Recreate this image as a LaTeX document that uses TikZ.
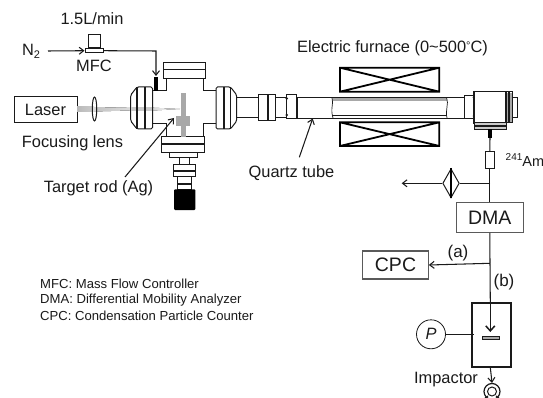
\documentclass[tikz,border=0pt]{standalone}
\usepackage{fontspec}
\setmainfont{Liberation Sans}
\usetikzlibrary{arrows.meta,shapes.geometric}
\definecolor{ink}{HTML}{1A1A1A}
\definecolor{boxline}{HTML}{5A5A5A}
\definecolor{rodgray}{HTML}{A8A8A8}
\tikzset{
  lbl/.style={inner sep=0pt,text=ink,font=\fontsize{16.4}{18}\selectfont},
  small/.style={inner sep=0pt,anchor=west,text=ink,font=\fontsize{13.1}{15}\selectfont},
  big/.style={inner sep=0pt,text=ink,font=\fontsize{19.5}{21}\selectfont},
  part/.style={draw=ink,line width=1pt,fill=white},
  wire/.style={draw=ink,line width=1.05pt},
  flow/.style={wire,-{Straight Barb[length=4.5pt,width=7pt]}},
  graybox/.style={draw=boxline,line width=1.1pt,inner sep=0pt,fill=white},
  heater/.style={draw=black,line width=1.8pt},
}
\begin{document}
\begin{tikzpicture}[x=1pt,y=-1pt]
\useasboundingbox (0,0) rectangle (543,398);
\fill[white] (0,0) rectangle (543,398);
% labels
\node[lbl] (rate) at (92,19) {1.5L/min};
\node[lbl] (n2) at (31,51) {N\raisebox{-0.35ex}{\fontsize{11}{12}\selectfont 2}};
\node[lbl] (mfc) at (94,66) {MFC};
\node[lbl] (fl) at (72.5,143) {Focusing lens};
\node[lbl] (tr) at (98.5,188) {Target rod (Ag)};
\node[lbl] (qt) at (291.5,173) {Quartz tube};
\node[lbl] (ef) at (392.5,48) {Electric furnace (0\char"7E 500\raisebox{0.35ex}{\fontsize{11}{12}\selectfont °}C)};
\node[lbl,anchor=west] (am) at (505.5,160) {\raisebox{0.6ex}{\fontsize{10}{12}\selectfont 241}\fontsize{14.5}{16}\selectfont Am};
\node[lbl] (imp) at (446,380) {Impactor};
\node[small] (l1) at (40,284) {MFC: Mass Flow Controller};
\node[small] (l2) at (40,300) {DMA: Differential Mobility Analyzer};
\node[small] (l3) at (40,316) {CPC: Condensation Particle Counter};
\node[lbl,font=\fontsize{17}{19}\selectfont] (a) at (458,253) {(a)};
\node[lbl,font=\fontsize{17}{19}\selectfont] (b) at (504,282) {(b)};
% laser and beam
\node[draw=ink,line width=1pt,minimum width=63pt,minimum height=26pt,inner sep=0pt,lbl] (laser) at (45.5,110) {Laser};
\fill[left color=rodgray!80,right color=rodgray!60] (77,106.5) -- (94,106.5) -- (94,111.5) -- (77,111.5) -- cycle;
\fill[left color=rodgray!70,right color=white] (94,107) -- (180,109) -- (94,111.5) -- cycle;
\node[draw=ink,line width=1pt,fill=white,fill opacity=0.4,ellipse,minimum width=4.5pt,minimum height=24pt,inner sep=0pt] (lens) at (94.5,109) {};
% chamber
\draw[part] (166,91) -- (166,78) -- (203,78) -- (203,91) -- (216,91) -- (216,124) -- (203,124) -- (203,137) -- (166,137) -- (166,124) -- (152,124) -- (152,91) -- cycle;
\fill[left color=rodgray!45,right color=white] (153,107.7) -- (180,109) -- (153,110.5) -- cycle;
\draw[part] (163.5,62.7) rectangle (205.7,78.3);
\draw[wire] (163.5,69.5) -- (205.7,69.5);
% left flange
\draw[part,rounded corners=1.5pt] (152.5,87) -- (137,87) -- (130.7,95) -- (130.7,121) -- (137,129) -- (152.5,129) -- cycle;
\fill[rodgray!60] (131,107.3) rectangle (152,110.8);
\draw[wire] (137,87) -- (137,129) (145,87) -- (145,129);
% right flange
\draw[part] (236,98) rectangle (258,118);
\draw[part,rounded corners=1.5pt] (216,87) -- (230.5,87) -- (236.7,95) -- (236.7,121) -- (230.5,129) -- (216,129) -- cycle;
\draw[wire] (224,87) -- (224,129) (230.5,87) -- (230.5,129);
% bottom flanges
\draw[part] (169,152.7) rectangle (197,157.7);
\draw[part] (179.3,157.7) rectangle (189,165);
\draw[part] (161.7,137) rectangle (204.3,152.7);
\draw[wire] (161.7,144) -- (204.3,144);
\draw[part] (177.7,177) rectangle (191,189.5);
\draw[wire] (177.7,184) -- (191,184);
\draw[part] (173,165) rectangle (195.7,177);
\draw[wire] (173,171) -- (195.7,171);
\fill[black,rounded corners=1pt] (174,189.3) rectangle (195.3,210);
% target rod
\fill[rodgray] (181,93) rectangle (186,137);
\fill[rodgray] (176,115.7) rectangle (190,126);
% gas line
\draw[part] (88,35) rectangle (100,48);
\node[part,inner sep=0pt,minimum width=18pt,minimum height=4.5pt] (valve) at (94,50.7) {};
\coordinate (n2end) at (48,51);
\coordinate (corner) at (156,51);
\fill[black] (154,77) rectangle (158,91);
\coordinate (inlet) at (156,76);
\draw[flow] (n2end) -- (valve.west);
\draw[flow] (valve.east) -- (corner) -- (inlet);
\coordinate (t1) at (125,177);
\coordinate (t2) at (174,118);
\draw[flow] (t1) -- (t2);
% connector to tube
\draw[part] (275,97.7) rectangle (287,117.5);
\draw[part] (258,95) rectangle (275,121);
\draw[line width=1.8pt,ink] (267.7,95) -- (267.7,121);
% quartz tube
\draw[part] (297,97.7) rectangle (464,118.3);
\fill[rodgray] (332,98.2) rectangle (446.7,100.8);
\draw[wire,line width=0.7pt] (332,98) .. controls (334,104) and (330,108) .. (333,118);
\draw[wire,line width=0.7pt] (446.7,98) .. controls (449,104) and (445,110) .. (447,118);
\draw[wire,line width=0.7pt] (332,115) -- (447,115);
\draw[part] (286.7,95) rectangle (296.7,118.5);
\fill[ink] (286.7,98.5) circle (1.3pt) (286.7,115) circle (1.3pt);
% furnace
\draw[heater] (340,67.7) rectangle (439.3,91.7) (340,67.7) -- (439.3,91.7) (340,91.7) -- (439.3,67.7);
\draw[heater] (340,122.3) rectangle (439.3,146) (340,122.3) -- (439.3,146) (340,146) -- (439.3,122.3);
\coordinate (q1) at (299.3,157.3);
\coordinate (q2) at (312.7,118.5);
\draw[flow] (q1) -- (q2);
% right end block
\draw[part] (512,97.7) rectangle (517,118);
\fill[rodgray] (506,93) rectangle (512.7,122);
\draw[part,fill=none] (506,92) rectangle (512.7,123);
\draw[wire] (509,92) -- (509,123);
\draw[part] (464,95.5) rectangle (474,119);
\fill[ink] (474,97.5) circle (1.3pt) (474,116) circle (1.3pt);
\draw[part,line width=1.2pt] (474,91.7) rectangle (506,123);
\draw[part,fill=rodgray!60] (474,123) rectangle (506,129.3);
\draw[wire] (474,126) -- (506,126);
\fill[black] (488,129.3) rectangle (491.5,138);
% column
\coordinate (outlet) at (490,138);
\node[graybox,minimum width=66.5pt,minimum height=29.6pt,big] (dma) at (489.8,217.5) {DMA};
\node[graybox,minimum width=65.6pt,minimum height=28pt,big] (cpc) at (395.5,265) {CPC};
\node[draw=ink,line width=1pt,fill=white,inner sep=0pt,minimum width=9pt,minimum height=17.3pt] (source) at (489.8,160.3) {};
\coordinate (tee) at (490,183.3);
\coordinate (tee2) at (490,263.3);
\coordinate (hvout) at (401.7,183.3);
\draw[wire] (outlet) -- (source.north);
\draw[wire] (source.south) -- (dma.north);
\node[draw=ink,line width=1pt,fill=white,diamond,aspect=0.6,inner sep=0pt,minimum width=16.6pt,minimum height=29pt] (filter) at (451,183.3) {};
\draw[wire] (tee) -- (filter.east);
\draw[flow] (filter.west) -- (hvout);
\draw[black,line width=1.7pt] (filter.north) -- (filter.south);
\draw[wire] (dma.south) -- (tee2);
\draw[flow] (tee2) -- (cpc.east);
% impactor
\node[draw=ink,line width=2pt,fill=white,inner sep=0pt,minimum width=38.7pt,minimum height=64.6pt] (box) at (491.7,335) {};
\coordinate (top) at (490.3,302.7);
\coordinate (tip) at (490.3,332);
\draw[wire] (tee2) -- (top);
\draw[ink,line width=1.5pt,-{Straight Barb[length=5pt,width=9pt]}] (top) -- (tip);
\draw[draw=ink,fill=rodgray,line width=0.6pt] (482.3,335.8) rectangle (499.3,339.3);
\node[draw=ink,line width=0.8pt,circle,minimum size=29pt,inner sep=0pt,lbl,font=\fontsize{16.4}{18}\selectfont\itshape] (p) at (431,334.3) {P};
\draw[wire] (p.east) -- (474,334.3);
% pump
\node[draw=ink,line width=1.2pt,circle,minimum size=16pt,inner sep=0pt] (pump) at (492,391.5) {};
\node[draw=ink,line width=1pt,circle,minimum size=9pt,inner sep=0pt] (pumpin) at (492,391.5) {};
\draw[flow] (490.3,367.3) -- (pump.north);
\draw[wire] (485,398) -- (488,396) (499,398) -- (496,396);
\end{tikzpicture}
\end{document}
